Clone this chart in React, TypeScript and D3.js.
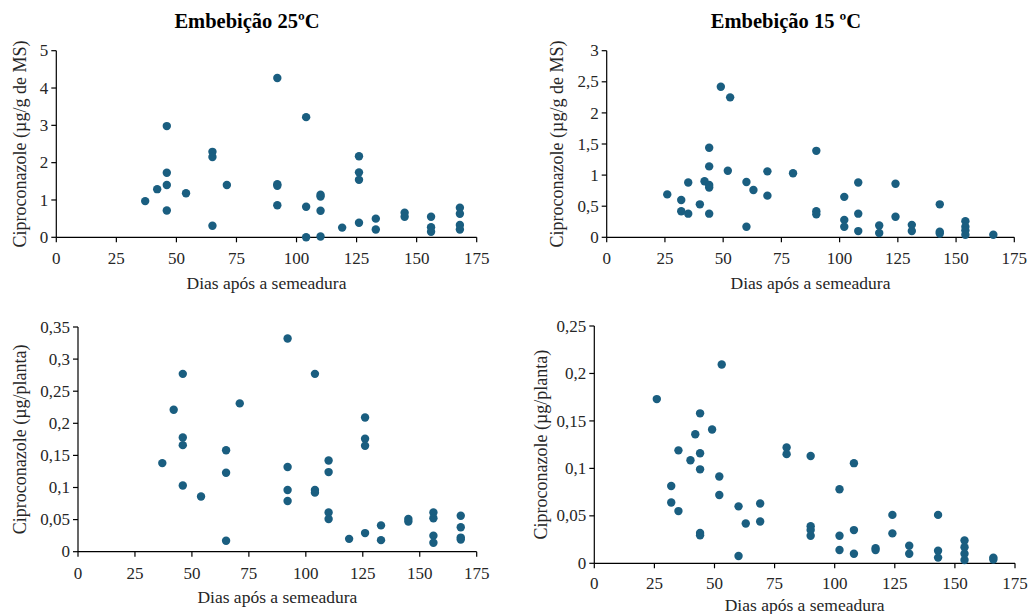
import React from "react";
import * as d3 from "d3";

// ---------- DATA ----------
const xTicks = [0, 25, 50, 75, 100, 125, 150, 175];

// Panel A: Embebição 25ºC, µg/g de MS
const daysA = [37, 42, 46, 46, 46, 46, 54, 65, 65, 65, 71, 92, 92, 92, 92, 104, 104, 104, 110, 110, 110, 110, 119, 126, 126, 126, 126, 133, 133, 145, 145, 156, 156, 156, 168, 168, 168, 168];
const valsA = [0.97, 1.29, 2.98, 1.73, 1.40, 0.72, 1.18, 2.29, 2.15, 0.31, 1.40, 4.27, 1.42, 1.38, 0.86, 3.22, 0.82, 0.0, 1.14, 1.09, 0.71, 0.02, 0.26, 2.17, 1.74, 1.54, 0.39, 0.50, 0.21, 0.66, 0.55, 0.55, 0.27, 0.15, 0.79, 0.63, 0.33, 0.21];

// Panel B: Embebição 15 ºC, µg/g de MS
const daysB = [26, 32, 32, 35, 35, 40, 42, 44, 44, 44, 44, 44, 49, 53, 52, 60, 60, 63, 69, 69, 80, 90, 90, 90, 102, 102, 102, 108, 108, 108, 117, 117, 124, 124, 131, 131, 143, 143, 143, 154, 154, 154, 154, 166];
const valsB = [0.69, 0.60, 0.42, 0.88, 0.38, 0.53, 0.90, 1.44, 1.14, 0.84, 0.80, 0.38, 2.42, 2.25, 1.07, 0.89, 0.17, 0.76, 1.06, 0.67, 1.03, 1.39, 0.42, 0.37, 0.65, 0.28, 0.17, 0.88, 0.38, 0.10, 0.19, 0.07, 0.86, 0.33, 0.20, 0.10, 0.53, 0.09, 0.06, 0.26, 0.17, 0.11, 0.04, 0.04];

// Panel C: Embebição 25ºC, µg/planta
const daysC = [37, 42, 46, 46, 46, 46, 54, 65, 65, 65, 71, 92, 92, 92, 92, 104, 104, 104, 110, 110, 110, 110, 119, 126, 126, 126, 126, 133, 133, 145, 145, 156, 156, 156, 156, 168, 168, 168, 168];
const valsC = [0.138, 0.221, 0.277, 0.178, 0.166, 0.103, 0.086, 0.158, 0.123, 0.017, 0.231, 0.332, 0.132, 0.096, 0.079, 0.277, 0.096, 0.092, 0.142, 0.124, 0.061, 0.051, 0.020, 0.209, 0.176, 0.165, 0.029, 0.041, 0.018, 0.051, 0.047, 0.061, 0.052, 0.025, 0.014, 0.056, 0.038, 0.022, 0.019];

// Panel D: Embebição 15 ºC, µg/planta
const daysD = [26, 32, 32, 35, 35, 40, 42, 44, 44, 44, 44, 44, 49, 53, 52, 52, 60, 60, 63, 69, 69, 80, 80, 90, 90, 90, 90, 102, 102, 102, 108, 108, 108, 117, 117, 124, 124, 131, 131, 143, 143, 143, 154, 154, 154, 154, 166, 166];
const valsD = [0.173, 0.0815, 0.064, 0.119, 0.055, 0.1085, 0.136, 0.158, 0.116, 0.099, 0.032, 0.0295, 0.141, 0.2095, 0.0915, 0.072, 0.060, 0.0077, 0.042, 0.063, 0.044, 0.122, 0.115, 0.113, 0.039, 0.035, 0.029, 0.078, 0.029, 0.014, 0.1055, 0.035, 0.010, 0.016, 0.014, 0.051, 0.0315, 0.0185, 0.010, 0.051, 0.0133, 0.006, 0.024, 0.017, 0.010, 0.0035, 0.006, 0.004];

const titles = ["Embebição 25ºC", "Embebição 15 ºC"];
const yLabelMS = "Ciproconazole (µg/g de MS)";
const yLabelPlanta = "Ciproconazole (µg/planta)";
const xLabel = "Dias após a semeadura";

// ---------- LAYOUT ----------
const COLOR = "#1a5e80";
const FONT = "Liberation Serif, Times New Roman, serif";

type Panel = {
  days: number[]; vals: number[]; yMax: number; yStep: number;
  x0: number; x1: number; yb: number; yt: number;
  yLab: string; yLabX: number; tickDy: number; xLabDy: number;
  title?: string; titleX?: number;
};

const panels: Panel[] = [
  { days: daysA, vals: valsA, yMax: 5, yStep: 1, x0: 56.3, x1: 476.7, yb: 237.3, yt: 50.7, yLab: yLabelMS, yLabX: 20, tickDy: 27, xLabDy: 51.5, title: titles[0], titleX: 247 },
  { days: daysB, vals: valsB, yMax: 3, yStep: 0.5, x0: 606.7, x1: 1014.3, yb: 237.3, yt: 50.7, yLab: yLabelMS, yLabX: 557, tickDy: 27, xLabDy: 51.5, title: titles[1], titleX: 786 },
  { days: daysC, vals: valsC, yMax: 0.35, yStep: 0.05, x0: 78, x1: 476.7, yb: 551.7, yt: 327, yLab: yLabelPlanta, yLabX: 20, tickDy: 27, xLabDy: 51 },
  { days: daysD, vals: valsD, yMax: 0.25, yStep: 0.05, x0: 594.3, x1: 1015, yb: 563.3, yt: 326, yLab: yLabelPlanta, yLabX: 541, tickDy: 25.5, xLabDy: 47.5 },
];

const fmt = (v: number) => String(+v.toFixed(2)).replace(".", ",");

function ScatterPanel({ p }: { p: Panel }) {
  const x = d3.scaleLinear().domain([0, 175]).range([p.x0, p.x1]);
  const y = d3.scaleLinear().domain([0, p.yMax]).range([p.yb, p.yt]);
  const yTicks = d3.range(0, p.yMax + p.yStep / 2, p.yStep);
  const yMid = (p.yb + p.yt) / 2;
  return (
    <g>
      {p.title && (
        <text x={p.titleX} y={28} textAnchor="middle" fontFamily={FONT} fontWeight="bold" fontSize={20.5} fill="#000">
          {p.title}
        </text>
      )}
      <line x1={p.x0} x2={p.x0} y1={y(p.yMax)} y2={p.yb} stroke="#000" strokeWidth={1.2} />
      <line x1={p.x0} x2={p.x1} y1={p.yb} y2={p.yb} stroke="#000" strokeWidth={1.2} />
      {yTicks.map((t) => (
        <g key={"y" + t}>
          <line x1={p.x0 - 5} x2={p.x0} y1={y(t)} y2={y(t)} stroke="#000" strokeWidth={1.2} />
          <text x={p.x0 - 8} y={y(t)} dy="0.33em" textAnchor="end" fontFamily={FONT} fontSize={17} fill="#262626">
            {fmt(t)}
          </text>
        </g>
      ))}
      {xTicks.map((t) => (
        <g key={"x" + t}>
          <line x1={x(t)} x2={x(t)} y1={p.yb} y2={p.yb + 5} stroke="#000" strokeWidth={1.2} />
          <text x={x(t)} y={p.yb + p.tickDy} textAnchor="middle" fontFamily={FONT} fontSize={17} fill="#262626">
            {t}
          </text>
        </g>
      ))}
      <text x={(p.x0 + p.x1) / 2} y={p.yb + p.xLabDy} textAnchor="middle" fontFamily={FONT} fontSize={17.5} fill="#262626">
        {xLabel}
      </text>
      <text transform={`translate(${p.yLabX},${yMid}) rotate(-90)`} dy="0.33em" textAnchor="middle" fontFamily={FONT} fontSize={18} fill="#262626">
        {p.yLab}
      </text>
      {p.days.map((d, i) => (
        <circle key={i} cx={x(d)} cy={y(p.vals[i])} r={4.2} fill={COLOR} />
      ))}
    </g>
  );
}

export default function App() {
  return (
    <svg width={1032} height={614} style={{ position: "absolute", left: 0, top: 0, background: "#fff" }}>
      <rect width={1032} height={614} fill="#fff" />
      {panels.map((p, i) => (
        <ScatterPanel key={i} p={p} />
      ))}
    </svg>
  );
}
